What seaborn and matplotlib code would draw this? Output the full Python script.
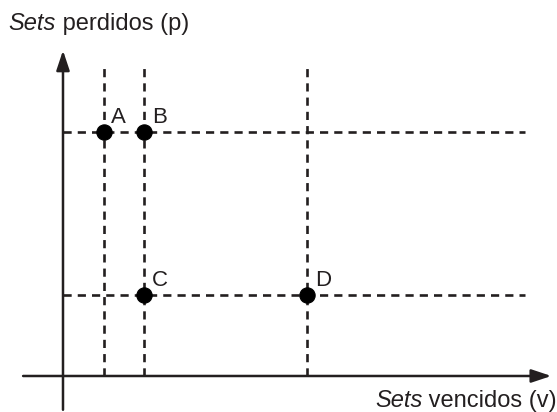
import matplotlib
matplotlib.use('Agg')
import matplotlib.pyplot as plt
import seaborn as sns
import pandas as pd

# Points (v = sets vencidos, p = sets perdidos)
labels = ['A', 'B', 'C', 'D']
v_vals = [1, 2, 2, 6]
p_vals = [6, 6, 2, 2]

xlabel_txt = ' vencidos (v)'
ylabel_txt = ' perdidos (p)'

INK = '#231f20'


def axis_label(ax, x, y, rest, ha='left'):
    # italic "Sets" followed by the upright rest of the label
    t = ax.text(x, y, 'Sets', transform=ax.transAxes, fontsize=17,
                style='italic', color=INK, va='baseline', ha='left')
    ax.annotate(rest, xy=(1, 0), xycoords=t, fontsize=17, color=INK,
                va='bottom', ha='left')


def main():
    sns.set_style('white')
    plt.rcParams['font.family'] = ['Liberation Sans', 'DejaVu Sans']

    fig = plt.figure(figsize=(5.57, 4.12), dpi=100)
    ax = fig.add_axes([0, 0, 1, 1])
    ax.set_xlim(-1.548, 12.14)
    ax.set_ylim(-0.885, 9.24)
    ax.axis('off')

    df = pd.DataFrame({'v': v_vals, 'p': p_vals, 'label': labels})
    dash = dict(color=INK, lw=1.9, linestyle=(0, (3.1, 2.3)), zorder=1)

    # dashed guide lines
    for v in sorted(set(v_vals)):
        ax.plot([v, v], [0, 7.6], **dash)
    for p in sorted(set(p_vals)):
        ax.plot([0, 11.35], [p, p], **dash)

    # axes with arrows
    arrow = dict(arrowstyle='-|>,head_length=1.2,head_width=0.4',
                 color=INK, lw=1.8, shrinkA=0, shrinkB=0)
    ax.annotate('', xy=(12.0, 0), xytext=(-0.98, 0), arrowprops=arrow)
    ax.annotate('', xy=(0, 8.0), xytext=(0, -0.83), arrowprops=arrow)

    sns.scatterplot(data=df, x='v', y='p', ax=ax, s=120, color='black',
                    edgecolor='black', zorder=3, legend=False)

    for _, r in df.iterrows():
        ax.annotate(r['label'], (r['v'], r['p']), xytext=(5.5, 6.5),
                    textcoords='offset points', fontsize=16, color=INK)

    axis_label(ax, 0.015, 0.928, ylabel_txt)
    axis_label(ax, 0.673, 0.011, xlabel_txt)

    plt.savefig('out.png', dpi=100)


if __name__ == '__main__':
    main()
